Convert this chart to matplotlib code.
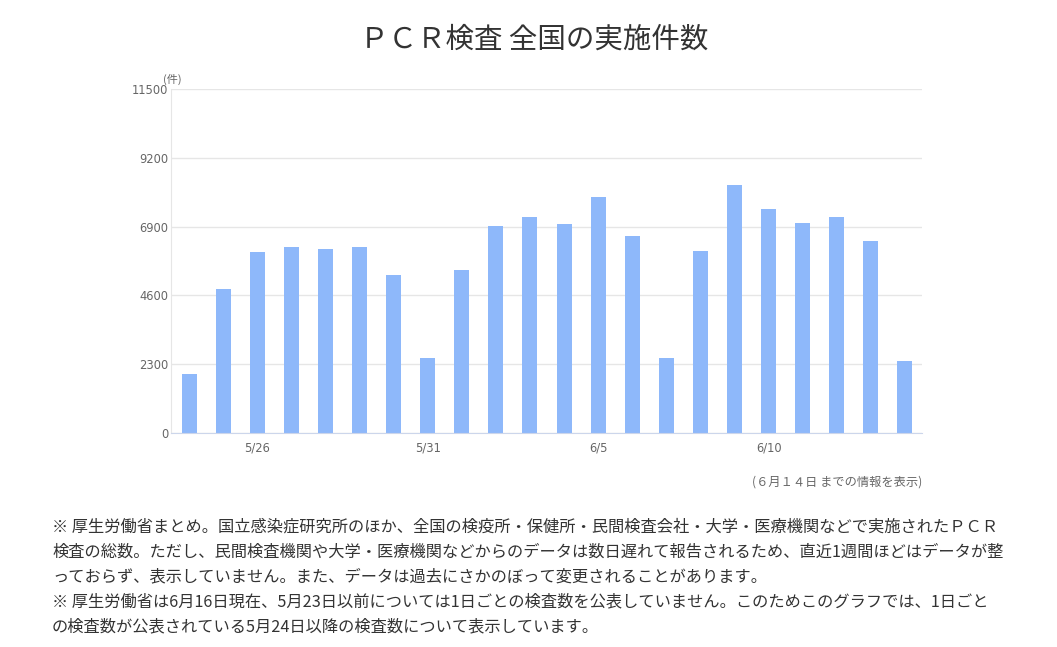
import matplotlib
matplotlib.use('Agg')
import matplotlib.pyplot as plt
import numpy as np

plt.rcParams['font.family'] = ['Noto Sans CJK JP', 'DejaVu Sans']

# daily PCR test counts, 5/24 .. 6/14
dates = ['5/24', '5/25', '5/26', '5/27', '5/28', '5/29', '5/30', '5/31',
         '6/1', '6/2', '6/3', '6/4', '6/5', '6/6', '6/7', '6/8', '6/9',
         '6/10', '6/11', '6/12', '6/13', '6/14']
counts = [1974, 4819, 6057, 6224, 6157, 6224, 5287, 2510,
          5454, 6927, 7228, 6994, 7897, 6592, 2510, 6090, 8299,
          7495, 7027, 7228, 6425, 2409]
shown_dates = ['5/26', '5/31', '6/5', '6/10']
yticks = [0, 2300, 4600, 6900, 9200, 11500]

title = 'ＰＣＲ検査 全国の実施件数'
unit = '(件)'
as_of = '(６月１４日 までの情報を表示)'
notes = [
    '※ 厚生労働省まとめ。国立感染症研究所のほか、全国の検疫所・保健所・民間検査会社・大学・医療機関などで実施されたＰＣＲ',
    '検査の総数。ただし、民間検査機関や大学・医療機関などからのデータは数日遅れて報告されるため、直近1週間ほどはデータが整',
    'っておらず、表示していません。また、データは過去にさかのぼって変更されることがあります。',
    '※ 厚生労働省は6月16日現在、5月23日以前については1日ごとの検査数を公表していません。このためこのグラフでは、1日ごと',
    'の検査数が公表されている5月24日以降の検査数について表示しています。',
]

W, H = 1057, 647
fig = plt.figure(figsize=(W / 100, H / 100), dpi=100)
ax = fig.add_axes([171 / W, 1 - 433 / H, (922 - 171) / W, (433 - 89) / H])

x = np.arange(len(dates))
ax.bar(x, counts, width=0.44, color='#8eb8fa', zorder=2)

ax.set_xlim(-0.53, len(dates) - 0.5)
ax.set_ylim(0, 11500)
ax.set_yticks(yticks)
ax.set_yticklabels([str(v) for v in yticks], fontsize=8.3, color='#666666',
                   family='DejaVu Sans')
ax.set_xticks([dates.index(d) for d in shown_dates])
ax.set_xticklabels(shown_dates, fontsize=8.3, color='#666666', family='DejaVu Sans')
ax.tick_params(axis='both', length=0, pad=6)
ax.tick_params(axis='y', pad=2)
ax.grid(axis='y', color='#e6e6e6', linewidth=1, zorder=0)

for s in ['top', 'right']:
    ax.spines[s].set_visible(False)
ax.spines['bottom'].set_color('#ccd6eb')
ax.spines['left'].set_color('#e6e6e6')

fig.text(534 / W, 1 - 40 / H, title, ha='center', va='center',
         fontsize=20.5, color='#333333')
fig.text(163 / W, 1 - 79 / H, unit, ha='left', va='center',
         fontsize=8, color='#666666')
fig.text(922 / W, 1 - 482 / H, as_of, ha='right', va='center',
         fontsize=8.8, color='#666666')

for i, line in enumerate(notes):
    fig.text(52 / W, 1 - (527 + 25 * i) / H, line, ha='left', va='center',
             fontsize=11.7, color='#333333')

fig.savefig('out.png', dpi=100)
